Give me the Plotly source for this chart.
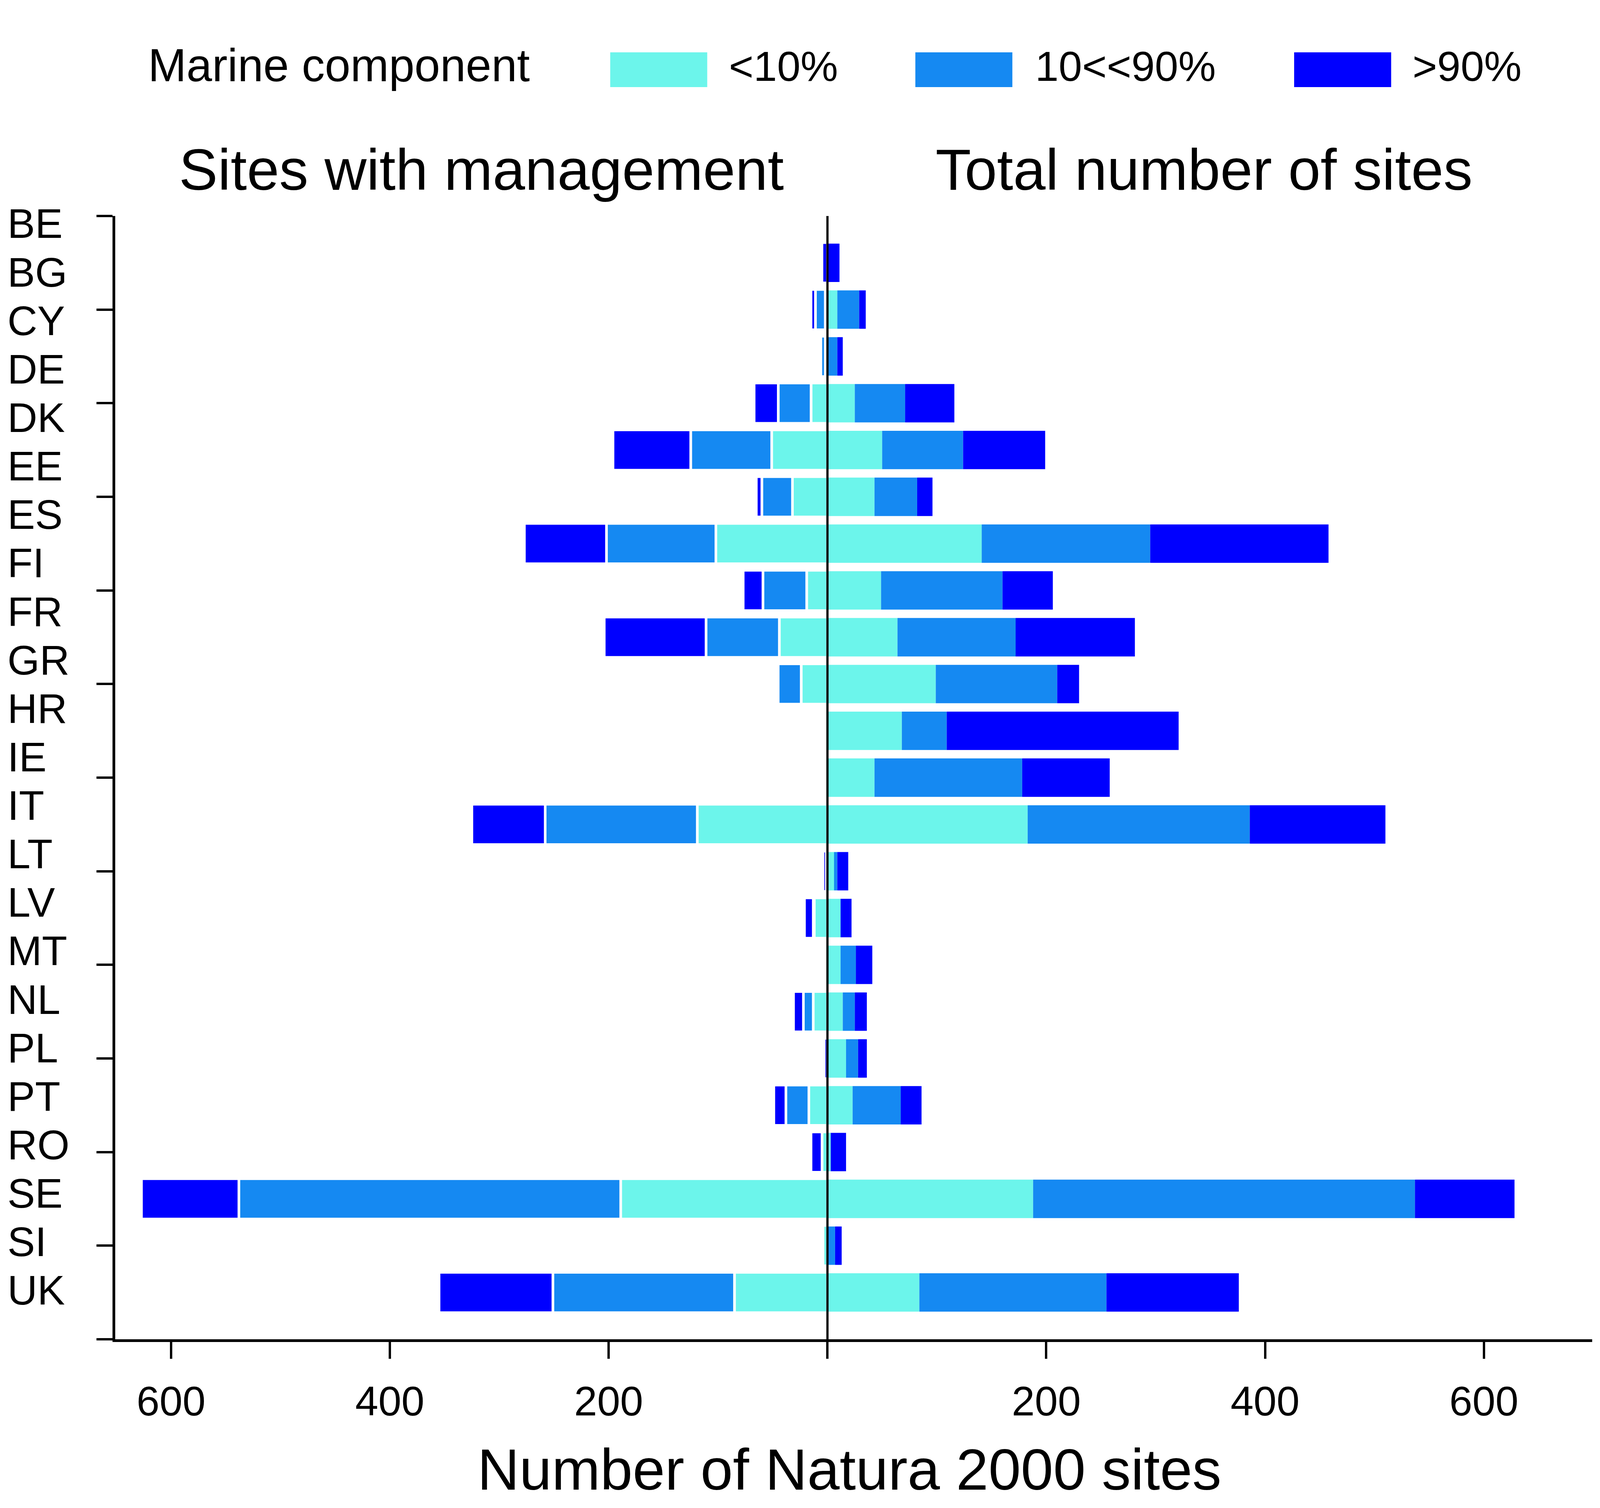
import plotly.graph_objects as go

# ---------------- data ----------------
categories = ["BE", "BG", "CY", "DE", "DK", "EE", "ES", "FI", "FR", "GR", "HR", "IE",
              "IT", "LT", "LV", "MT", "NL", "PL", "PT", "RO", "SE", "SI", "UK"]

# Sites with management (plotted to the left)
mgmt_low = [0, 2, 2, 15, 51, 32, 102, 19, 44, 24, 0, 0, 119, 1, 12, 0, 13, 0, 17, 5, 189, 4, 85]
mgmt_mid = [0, 9, 4, 30, 74, 28, 100, 40, 67, 21, 0, 0, 139, 0, 1, 0, 9, 0, 21, 0, 349, 0, 166]
mgmt_high = [5, 4, 0, 22, 71, 5, 75, 18, 93, 0, 0, 0, 67, 3, 8, 0, 9, 3, 11, 10, 89, 0, 104]

# Total number of sites (plotted to the right)
total_low = [0, 9, 0, 25, 50, 43, 141, 49, 64, 99, 68, 43, 183, 6, 12, 12, 14, 17, 23, 3, 188, 0, 84]
total_mid = [0, 20, 9, 46, 74, 39, 154, 111, 108, 111, 41, 135, 203, 3, 0, 14, 11, 11, 44, 0, 349, 7, 171]
total_high = [11, 6, 5, 45, 75, 14, 163, 46, 109, 20, 212, 80, 124, 10, 10, 15, 11, 8, 19, 14, 91, 6, 121]

series_names = ["<10%", "10<<90%", ">90%"]
x_tickvals = [-600, -400, -200, 0, 200, 400, 600]
x_ticktext = ["600", "400", "200", "", "200", "400", "600"]

# ---------------- style ----------------
C_LOW = "#6CF5EB"
C_MID = "#1589F2"
C_HIGH = "#0000FF"
colors = [C_LOW, C_MID, C_HIGH]
FONT = "Liberation Sans, Arial, sans-serif"

# the page is viewed in a 4096 px wide viewport: scale the horizontal layout
W, H = 4096, 3861
SX = W / 4321.0
FS = 0.95  # font scale

L = round(311 * SX)
R = W - round(4300 * SX)
T, B = 553, 432
PW, PH = W - L - R, H - T - B


def px_x(p):
    """reference-pixel x -> paper x"""
    return (p * SX - L) / PW


def px_y(p):
    """reference-pixel y -> paper y"""
    return (H - B - p) / PH


def f(size):
    return dict(size=round(size * FS), family=FONT, color="black")


pos = list(range(len(categories)))

fig = go.Figure()
for vals, name, col in zip([mgmt_low, mgmt_mid, mgmt_high], series_names, colors):
    fig.add_trace(go.Bar(
        y=pos, x=[-v for v in vals], orientation="h", name=name,
        marker=dict(color=col, line=dict(color="white", width=6.6)),
        width=0.86, showlegend=False))
for vals, name, col in zip([total_low, total_mid, total_high], series_names, colors):
    fig.add_trace(go.Bar(
        y=pos, x=vals, orientation="h", name=name,
        marker=dict(color=col, line=dict(width=0)),
        width=0.82, showlegend=False))

fig.update_layout(
    width=W, height=H,
    margin=dict(l=L, r=R, t=T, b=B),
    paper_bgcolor="white", plot_bgcolor="white",
    barmode="relative",
    font=f(112),
    showlegend=False,
)

fig.update_xaxes(
    range=[-651, 699], tickvals=x_tickvals, ticktext=x_ticktext,
    ticks="outside", ticklen=43, tickwidth=6.3, tickcolor="black",
    showline=True, linewidth=7, linecolor="black",
    showgrid=False, zeroline=False,
    tickfont=f(112),
    ticklabelstandoff=18,
)
fig.update_yaxes(
    range=[23, -1], tickvals=list(range(-1, 24, 2)),
    showticklabels=False,
    ticks="outside", ticklen=41, tickwidth=6.3, tickcolor="black",
    showline=True, linewidth=6.6, linecolor="black",
    showgrid=False, zeroline=False,
)

fig.add_shape(type="line", xref="x", yref="y", x0=0, x1=0, y0=-1, y1=23,
              line=dict(color="black", width=5.7), layer="above")

annotations = []
for i, c in enumerate(categories):
    annotations.append(dict(
        text=c, xref="paper", yref="y", x=px_x(18), y=-0.838 + 1.0359 * i,
        xanchor="left", yanchor="middle", showarrow=False, font=f(112)))

annotations.append(dict(text="Sites with management", xref="paper", yref="paper",
                        x=px_x(1300), y=px_y(434), xanchor="center", yanchor="middle",
                        showarrow=False, font=f(157)))
annotations.append(dict(text="Total number of sites", xref="paper", yref="paper",
                        x=px_x(3252), y=px_y(434), xanchor="center", yanchor="middle",
                        showarrow=False, font=f(157)))
annotations.append(dict(text="Number of Natura 2000 sites", xref="paper", yref="paper",
                        x=px_x(2294), y=px_y(3762), xanchor="center", yanchor="middle",
                        showarrow=False, font=f(157)))

annotations.append(dict(text="Marine component", xref="paper", yref="paper",
                        x=px_x(398), y=px_y(167), xanchor="left", yanchor="middle",
                        showarrow=False, font=f(124)))
swatch_x = [1648, 2472, 3495]
label_x = [1966, 2793, 3813]
for sx, lx, name, col in zip(swatch_x, label_x, series_names, colors):
    fig.add_shape(type="rect", xref="paper", yref="paper",
                  x0=px_x(sx), x1=px_x(sx + 262), y0=px_y(223), y1=px_y(134),
                  fillcolor=col, line=dict(width=0))
    annotations.append(dict(text=name, xref="paper", yref="paper",
                            x=px_x(lx), y=px_y(170), xanchor="left", yanchor="middle",
                            showarrow=False, font=f(114)))

fig.update_layout(annotations=annotations)

fig.write_html("out.html", config={"displayModeBar": False},
               post_script="document.body.style.margin='0';")
